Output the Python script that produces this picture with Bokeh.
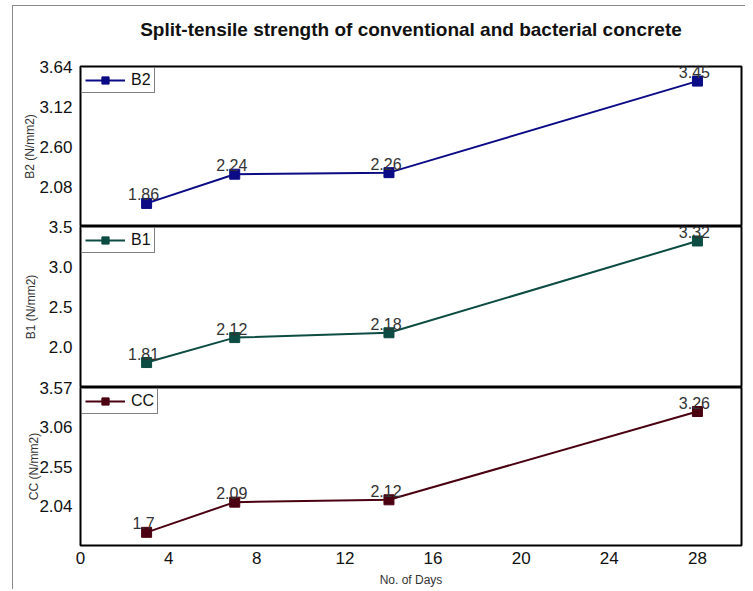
from bokeh.plotting import figure
from bokeh.models import Range1d, FixedTicker, Legend, LegendItem, Title
from bokeh.layouts import column
from bokeh.embed import file_html
from bokeh.resources import INLINE
from bokeh.core.properties import value

# ---- data ----
days = [3, 7, 14, 28]
b2_values = [1.86, 2.24, 2.26, 3.45]
b1_values = [1.81, 2.12, 2.18, 3.32]
cc_values = [1.70, 2.09, 2.12, 3.26]
b2_point_labels = ["1.86", "2.24", "2.26", "3.45"]
b1_point_labels = ["1.81", "2.12", "2.18", "3.32"]
cc_point_labels = ["1.7", "2.09", "2.12", "3.26"]

x_ticks = [0, 4, 8, 12, 16, 20, 24, 28]
b2_ticks = [2.08, 2.60, 3.12, 3.64]
b2_tick_labels = ["2.08", "2.60", "3.12", "3.64"]
b1_ticks = [2.0, 2.5, 3.0, 3.5]
b1_tick_labels = ["2.0", "2.5", "3.0", "3.5"]
cc_ticks = [2.04, 2.55, 3.06, 3.57]
cc_tick_labels = ["2.04", "2.55", "3.06", "3.57"]

b2_yrange = (1.56, 3.64)
b1_yrange = (1.50, 3.50)
cc_yrange = (1.53, 3.57)
x_range_days = (0, 30)

TITLE = "Split-tensile strength of conventional and bacterial concrete"
FONT = "Liberation Sans"

xr = Range1d(*x_range_days)


def make_panel(name, ys, pt_labels, color, yr, ticks, tick_labels, frame_h,
               top, bottom, show_x, lab_standoff, title=None, overlap=0):
    p = figure(x_range=xr, y_range=Range1d(*yr), frame_width=661,
               frame_height=frame_h, min_border_left=67, min_border_right=4,
               min_border_top=top, min_border_bottom=bottom, title=None,
               output_backend="svg", toolbar_location=None)
    if overlap:
        p.margin = (-overlap, 0, 0, 0)
        p.border_fill_alpha = 0
    p.outline_line_color = "black"
    p.outline_line_width = 2
    p.outline_line_alpha = 1
    p.grid.visible = False

    ya = p.yaxis[0]
    ya.ticker = FixedTicker(ticks=ticks)
    ya.major_label_overrides = {t: l for t, l in zip(ticks, tick_labels)}
    ya.axis_line_color = None
    ya.major_tick_line_color = None
    ya.minor_tick_line_color = None
    ya.major_label_standoff = 2
    ya.major_label_text_font = FONT
    ya.major_label_text_font_size = "17px"
    ya.major_label_text_color = "#111111"
    ya.axis_label = f"{name} (N/mm2)"
    ya.axis_label_text_font = FONT
    ya.axis_label_text_font_size = "12px"
    ya.axis_label_text_font_style = "normal"
    ya.axis_label_text_color = "#333333"
    ya.axis_label_standoff = lab_standoff

    xa = p.xaxis[0]
    if show_x:
        xa.ticker = FixedTicker(ticks=x_ticks)
        xa.axis_line_color = None
        xa.major_tick_line_color = None
        xa.minor_tick_line_color = None
        xa.major_label_standoff = 0
        xa.major_label_text_font = FONT
        xa.major_label_text_font_size = "17px"
        xa.major_label_text_color = "#111111"
        xa.axis_label = "No. of Days"
        xa.axis_label_text_font = FONT
        xa.axis_label_text_font_size = "12px"
        xa.axis_label_text_font_style = "normal"
        xa.axis_label_text_color = "#333333"
        xa.axis_label_standoff = 6
    else:
        xa.visible = False

    rl = p.line(days, ys, line_color=color, line_width=2)
    rs = p.scatter(days, ys, marker="square", size=10, fill_color=color,
                   line_color=color)
    p.text(days, ys, text=pt_labels, text_align="center",
           text_baseline="alphabetic", x_offset=-3, y_offset=-9,
           text_font=value(FONT), text_font_size="16px",
           text_color="#333333")

    leg = Legend(items=[LegendItem(label=name, renderers=[rl, rs])],
                 location="top_left", margin=1, padding=3, spacing=0,
                 glyph_width=40, glyph_height=18, label_standoff=6,
                 label_text_font=FONT, label_text_font_size="16px",
                 label_text_color="#111111", border_line_color="black",
                 border_line_width=1, background_fill_alpha=1)
    p.add_layout(leg)

    if title:
        spacer = Title(text=" ", text_font_size="1px", standoff=24)
        p.add_layout(spacer, "above")
        t = Title(text=title, align="center", vertical_align="bottom",
                  standoff=0, text_font=FONT, text_font_size="19px",
                  text_font_style="bold", text_color="#111111")
        p.add_layout(t, "above")
    return p


p1 = make_panel("B2", b2_values, b2_point_labels, "#0b0b86", b2_yrange,
                b2_ticks, b2_tick_labels, 160, 60, 0, False, -1, title=TITLE)
p2 = make_panel("B1", b1_values, b1_point_labels, "#0c4c42", b1_yrange,
                b1_ticks, b1_tick_labels, 161, 12, 0, False, 8, overlap=12)
p3 = make_panel("CC", cc_values, cc_point_labels, "#4a0010", cc_yrange,
                cc_ticks, cc_tick_labels, 158, 12, 38, True, -5, overlap=12)

layout = column(p1, p2, p3, spacing=0,
                styles={"margin-left": "12px", "margin-top": "5px",
                        "border-left": "1px solid #8a8a8a",
                        "border-top": "1px solid #8a8a8a"})

open("out.html", "w").write(file_html(layout, INLINE))
